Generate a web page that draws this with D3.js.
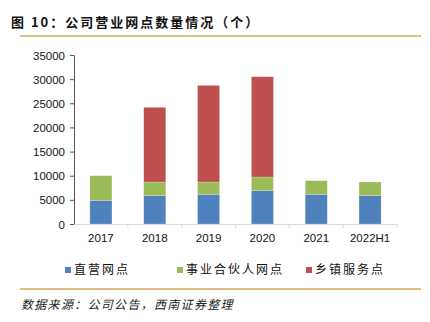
<!DOCTYPE html>
<html>
<head>
<meta charset="utf-8">
<script src="https://cdn.jsdelivr.net/npm/d3@7"></script>
<style>
  body { margin: 0; background: #fff; }
  svg { display: block; }
</style>
</head>
<body>
<svg id="chart" width="430" height="322"></svg>
<script>
// data
var years = ["2017", "2018", "2019", "2020", "2021", "2022H1"];
var direct = [4900, 5860, 6150, 6900, 6150, 5860];
var partner = [5100, 2840, 2550, 2830, 2820, 2840];
var township = [0, 15460, 20010, 20770, 0, 0];
var seriesNames = ["直营网点", "事业合伙人网点", "乡镇服务点"];
var yTicks = [0, 5000, 10000, 15000, 20000, 25000, 30000, 35000];

var colors = ["#4f81bd", "#9bbb59", "#c0504d"];
var cjk = "'Noto Sans CJK SC', 'Noto Sans', sans-serif";
var latin = "'Liberation Sans', Arial, sans-serif";

var svg = d3.select("#chart");

// header
svg.append("text")
    .attr("x", 11).attr("y", 27)
    .style("font-family", cjk).style("font-size", "13px").style("font-weight", "bold")
    .style("letter-spacing", "2px")
    .attr("fill", "#111")
    .text("图 10：公司营业网点数量情况（个）");

svg.append("line")
    .attr("x1", 20).attr("x2", 421).attr("y1", 36).attr("y2", 36)
    .attr("stroke", "#d8a25a").attr("stroke-width", 1.5);

svg.append("line")
    .attr("x1", 20).attr("x2", 421).attr("y1", 289).attr("y2", 289)
    .attr("stroke", "#d8a25a").attr("stroke-width", 1.5);

svg.append("text")
    .attr("x", 21).attr("y", 309)
    .style("font-family", cjk).style("font-size", "12px").style("font-style", "italic")
    .style("letter-spacing", "1.3px")
    .attr("fill", "#222")
    .text("数据来源：公司公告，西南证券整理");

// plot
var x = d3.scaleBand().domain(years).range([74, 397]).paddingInner(0.59).paddingOuter(0.295);
var y = d3.scaleLinear().domain([0, 35000]).range([224, 55]);

var rows = years.map(function(yr, i) {
    return { year: yr, direct: direct[i], partner: partner[i], township: township[i] };
});
var stack = d3.stack().keys(["direct", "partner", "township"]);
var layers = stack(rows);

var g = svg.append("g");
g.selectAll(".layer")
    .data(layers)
    .enter().append("g")
    .attr("fill", function(d, i) { return colors[i]; })
    .selectAll("rect")
    .data(function(d) { return d.filter(function(p) { return p[1] > p[0]; }); })
    .enter().append("rect")
    .attr("x", function(d) { return x(d.data.year); })
    .attr("width", x.bandwidth())
    .attr("y", function(d) { return y(d[1]); })
    .attr("height", function(d) { return y(d[0]) - y(d[1]); })
    .attr("stroke", "rgba(255,255,255,0.35)")
    .attr("stroke-width", 0.6);

// y axis
var yAxis = svg.append("g")
    .attr("transform", "translate(74,0)")
    .call(d3.axisLeft(y).tickValues(yTicks).tickFormat(d3.format("d")).tickSize(4).tickSizeOuter(0));
yAxis.select(".domain").attr("stroke", "#555");
yAxis.selectAll(".tick line").attr("stroke", "#555");
yAxis.selectAll("text")
    .style("font-family", latin).style("font-size", "11.5px").attr("fill", "#111")
    .attr("x", -9).attr("dy", "0.35em");

// x axis
var xAxis = svg.append("g")
    .attr("transform", "translate(0,224)")
    .call(d3.axisBottom(x).tickSize(0).tickSizeOuter(0));
xAxis.select(".domain").attr("stroke", "#d9d9d9");
xAxis.selectAll("text")
    .style("font-family", latin).style("font-size", "11.5px").attr("fill", "#111")
    .attr("dy", "1.3em");

// separator ticks between categories
var seps = years.map(function(yr) { return x(yr) - x.step() * x.paddingInner() / 2; }).slice(1);
seps.push(397);
xAxis.selectAll(".sep")
    .data(seps)
    .enter().append("line")
    .attr("x1", function(d) { return d; }).attr("x2", function(d) { return d; })
    .attr("y1", 0).attr("y2", 4)
    .attr("stroke", "#d9d9d9");

// legend
var legendX = [65, 177, 306];
var legend = svg.append("g")
    .selectAll("g")
    .data(seriesNames)
    .enter().append("g")
    .attr("transform", function(d, i) { return "translate(" + legendX[i] + ",267)"; });
legend.append("rect")
    .attr("width", 6).attr("height", 6)
    .attr("fill", function(d, i) { return colors[i]; });
legend.append("text")
    .attr("x", 9).attr("y", 7)
    .style("font-family", cjk).style("font-size", "12px").style("letter-spacing", "2px")
    .attr("fill", "#111")
    .text(function(d) { return d; });
</script>
</body>
</html>
